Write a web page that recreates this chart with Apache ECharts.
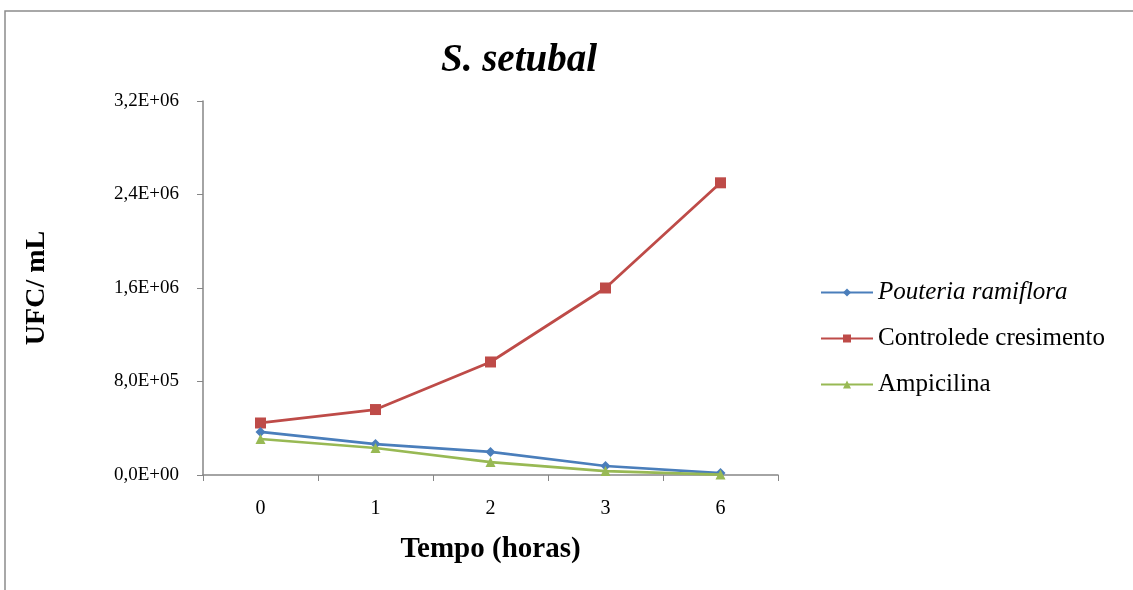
<!DOCTYPE html>
<html>
<head>
<meta charset="utf-8">
<script src="https://cdn.jsdelivr.net/npm/echarts@6/dist/echarts.min.js"></script>
<style>
  html, body { margin: 0; padding: 0; background: #fff; }
  #chart { width: 1133px; height: 590px; }
</style>
</head>
<body>
<div id="chart"></div>
<script>
// Tempo (horas) sampled
const categories = ['0', '1', '2', '3', '6'];

// UFC/mL per treatment
const pouteriaRamiflora = [368000, 265000, 197000, 77000, 17000];
const controleCrescimento = [445000, 560000, 967000, 1600000, 2500000];
const ampicilina = [308000, 231000, 111000, 34000, 4000];

const seriesNames = ['Pouteria ramiflora', 'Controlede cresimento', 'Ampicilina'];

const serif = '"Liberation Serif", "Times New Roman", serif';

// Format as e.g. 1,6E+06 (comma decimal separator)
function sci(v) {
  if (v === 0) return '0,0E+00';
  const exp = Math.floor(Math.log10(Math.abs(v)));
  const mant = (v / Math.pow(10, exp)).toFixed(1).replace('.', ',');
  const e = (exp < 10 ? '0' : '') + exp;
  return mant + 'E+' + e;
}

const chart = echarts.init(document.getElementById('chart'), null, { renderer: 'canvas' });

const option = {
  backgroundColor: '#ffffff',
  animation: false,
  graphic: [{
    type: 'rect',
    shape: { x: 5, y: 11, width: 1300, height: 800 },
    style: { fill: 'none', stroke: '#8c8c8c', lineWidth: 1.5 },
    silent: true
  }],
  title: {
    text: 'S. setubal',
    left: 514,
    top: 36,
    textAlign: 'center',
    textStyle: { fontFamily: serif, fontSize: 39, fontWeight: 'bold', fontStyle: 'italic', color: '#000' }
  },
  legend: {
    orient: 'vertical',
    left: 820,
    top: 280,
    padding: 0,
    itemWidth: 52,
    itemHeight: 10,
    itemGap: 21,
    textStyle: { fontFamily: serif, fontSize: 25, color: '#000' },
    data: [
      { name: seriesNames[0], textStyle: { fontStyle: 'italic' } },
      { name: seriesNames[1] },
      { name: seriesNames[2] }
    ]
  },
  grid: { left: 203, right: 355, top: 101, bottom: 115, containLabel: false },
  xAxis: {
    type: 'category',
    data: categories,
    boundaryGap: true,
    name: 'Tempo (horas)',
    nameLocation: 'middle',
    nameGap: 60,
    nameTextStyle: { fontFamily: serif, fontSize: 29, fontWeight: 'bold', color: '#000' },
    axisLine: { lineStyle: { color: '#868686', width: 1.5 } },
    axisTick: { show: true, length: 6, lineStyle: { color: '#868686' }, alignWithLabel: false },
    axisLabel: { fontFamily: serif, fontSize: 20, color: '#000', margin: 24 },
    splitLine: { show: false }
  },
  yAxis: {
    type: 'value',
    min: 0,
    max: 3200000,
    interval: 800000,
    name: 'UFC/ mL',
    nameLocation: 'middle',
    nameGap: 152,
    nameRotate: 90,
    nameTextStyle: { fontFamily: serif, fontSize: 28, fontWeight: 'bold', color: '#000' },
    axisLine: { show: true, lineStyle: { color: '#868686', width: 1.5 } },
    axisTick: { show: true, length: 6, lineStyle: { color: '#868686' } },
    axisLabel: { fontFamily: serif, fontSize: 19, color: '#000', margin: 24, formatter: sci },
    splitLine: { show: false }
  },
  series: [
    {
      name: seriesNames[0],
      type: 'line',
      data: pouteriaRamiflora,
      color: '#4a7ebb',
      symbol: 'diamond',
      symbolSize: 10,
      lineStyle: { width: 2.75 },
      z: 3
    },
    {
      name: seriesNames[1],
      type: 'line',
      data: controleCrescimento,
      color: '#be4b48',
      symbol: 'rect',
      symbolSize: 11,
      lineStyle: { width: 2.75 },
      z: 2
    },
    {
      name: seriesNames[2],
      type: 'line',
      data: ampicilina,
      color: '#98b954',
      symbol: 'triangle',
      symbolSize: 10,
      lineStyle: { width: 2.75 },
      z: 4
    }
  ]
};

chart.setOption(option);
</script>
</body>
</html>
